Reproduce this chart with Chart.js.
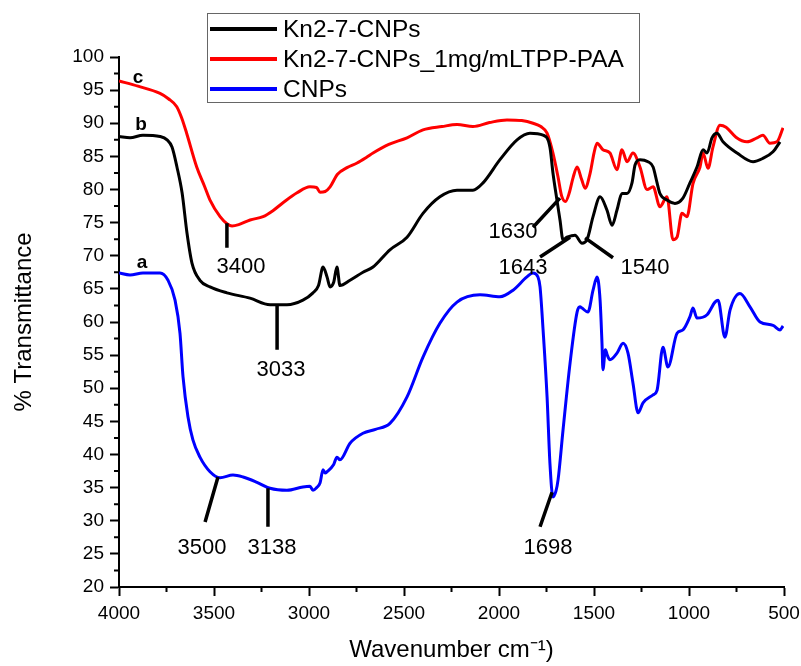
<!DOCTYPE html>
<html>
<head>
<meta charset="utf-8">
<script src="https://cdn.jsdelivr.net/npm/chart.js@4.4.1/dist/chart.umd.min.js"></script>
<style>
  html, body { margin: 0; padding: 0; background: #fff; }
  canvas { display: block; }
</style>
</head>
<body>
<canvas id="ftir" width="801" height="666"></canvas>
<script>
// FTIR spectra, % transmittance vs wavenumber
const seriesNames = ['Kn2-7-CNPs', 'Kn2-7-CNPs_1mg/mLTPP-PAA', 'CNPs'];

// b - Kn2-7-CNPs
const blackWn = [4000, 3942, 3874, 3784, 3747, 3721, 3695, 3668, 3642, 3616, 3574, 3521, 3432, 3311, 3205, 3116, 3032, 2979, 2950, 2926, 2905, 2889, 2870, 2853, 2837, 2784, 2716, 2663, 2574, 2484, 2400, 2311, 2221, 2137, 2084, 1995, 1905, 1837, 1768, 1732, 1716, 1695, 1679, 1663, 1642, 1620, 1600, 1563, 1537, 1505, 1468, 1432, 1405, 1379, 1353, 1326, 1300, 1284, 1258, 1216, 1189, 1168, 1153, 1116, 1074, 1032, 995, 958, 926, 905, 879, 853, 821, 747, 663, 611, 558, 521];
const blackT = [88.0, 87.8, 88.2, 88.0, 87.5, 86.4, 83.4, 79.5, 73.4, 68.9, 66.3, 65.3, 64.4, 63.6, 62.6, 62.6, 63.3, 64.4, 65.5, 68.3, 66.8, 65.3, 66.0, 68.3, 65.5, 66.3, 67.5, 68.3, 70.9, 72.8, 76.4, 78.9, 79.9, 79.9, 81.0, 84.5, 87.5, 88.5, 88.2, 86.4, 82.5, 78.4, 75.4, 72.4, 72.8, 73.0, 73.1, 71.9, 72.4, 75.9, 78.9, 76.9, 74.6, 76.9, 79.4, 79.4, 81.0, 83.7, 84.5, 84.2, 83.4, 81.0, 79.4, 78.4, 77.9, 78.7, 81.0, 83.4, 86.0, 85.5, 87.8, 88.5, 87.2, 85.5, 84.2, 84.7, 85.7, 87.2];

// c - Kn2-7-CNPs_1mg/mLTPP-PAA
const redWn = [4000, 3900, 3784, 3740, 3696, 3670, 3644, 3591, 3550, 3521, 3468, 3430, 3405, 3370, 3310, 3242, 3190, 3137, 3063, 2995, 2960, 2942, 2915, 2889, 2850, 2800, 2747, 2695, 2663, 2580, 2484, 2400, 2300, 2221, 2137, 2050, 1958, 1880, 1821, 1780, 1747, 1716, 1690, 1670, 1650, 1630, 1610, 1589, 1565, 1547, 1520, 1500, 1484, 1453, 1416, 1379, 1353, 1326, 1295, 1258, 1221, 1189, 1153, 1116, 1084, 1063, 1037, 1011, 979, 942, 926, 900, 874, 837, 805, 753, 695, 642, 611, 574, 537, 505];
const redT = [96.4, 95.6, 94.5, 93.7, 92.5, 90.8, 88.5, 83.4, 80.5, 78.4, 75.9, 74.8, 74.5, 74.7, 75.4, 75.9, 76.8, 78.0, 79.5, 80.4, 80.3, 79.6, 79.7, 80.4, 82.3, 83.3, 84.0, 84.9, 85.5, 86.8, 87.8, 89.0, 89.5, 89.8, 89.5, 90.1, 90.5, 90.4, 90.0, 89.5, 88.5, 85.5, 82.0, 79.0, 78.2, 79.5, 81.8, 83.4, 81.5, 80.2, 82.5, 85.5, 87.0, 86.0, 85.5, 83.0, 86.0, 84.2, 85.5, 83.4, 80.0, 80.4, 77.4, 78.9, 72.4, 72.8, 76.4, 75.9, 80.9, 83.4, 85.5, 83.2, 86.4, 89.7, 89.4, 87.9, 87.2, 87.8, 88.2, 87.0, 87.2, 89.3];

// a - CNPs
const blueWn = [4000, 3942, 3874, 3784, 3742, 3705, 3679, 3663, 3637, 3611, 3574, 3521, 3468, 3400, 3347, 3274, 3205, 3116, 3032, 2995, 2979, 2960, 2942, 2926, 2915, 2905, 2870, 2853, 2837, 2784, 2716, 2650, 2574, 2484, 2400, 2311, 2221, 2100, 1995, 1926, 1853, 1821, 1795, 1784, 1768, 1747, 1732, 1716, 1700, 1689, 1663, 1626, 1589, 1574, 1563, 1532, 1505, 1484, 1468, 1458, 1453, 1440, 1430, 1416, 1379, 1347, 1321, 1295, 1268, 1242, 1189, 1168, 1137, 1111, 1063, 1032, 995, 979, 958, 905, 863, 847, 811, 784, 732, 679, 626, 558, 521, 505];
const blueT = [67.4, 67.1, 67.4, 67.4, 66.3, 63.3, 58.3, 51.7, 45.7, 42.2, 39.6, 37.4, 36.5, 36.9, 36.6, 35.8, 34.9, 34.6, 35.1, 35.2, 34.6, 35.0, 35.7, 37.7, 37.2, 37.4, 38.5, 39.6, 39.2, 41.7, 43.2, 43.8, 44.7, 48.7, 54.7, 59.8, 63.0, 64.1, 63.8, 64.8, 66.8, 67.4, 66.8, 65.3, 58.8, 48.7, 38.7, 33.6, 34.5, 36.2, 43.7, 53.8, 61.5, 62.3, 62.1, 61.5, 64.8, 66.8, 63.3, 56.8, 52.8, 55.8, 55.0, 54.3, 55.3, 56.8, 55.3, 50.8, 46.3, 47.8, 49.0, 49.7, 56.2, 53.2, 58.3, 58.8, 60.8, 62.1, 60.6, 61.1, 63.0, 63.3, 57.7, 61.8, 64.3, 62.3, 60.0, 59.5, 58.8, 59.4];

// peak annotations in data units: label position and leader line
const peakNotes = [
  { text: '3400', x: 3358, y: 68.3, from: [3432, 74.9], to: [3432, 71.2] },
  { text: '3033', x: 3147, y: 52.8, from: [3168, 62.6], to: [3168, 55.8] },
  { text: '1630', x: 1926, y: 73.6, from: [1679, 78.7], to: [1821, 74.3] },
  { text: '1643', x: 1874, y: 68.2, from: [1626, 72.8], to: [1784, 69.8] },
  { text: '1540', x: 1232, y: 68.2, from: [1547, 72.7], to: [1400, 69.7] },
  { text: '3500', x: 3563, y: 25.9, from: [3479, 36.6], to: [3547, 29.8] },
  { text: '3138', x: 3195, y: 25.9, from: [3216, 34.9], to: [3216, 29.1] },
  { text: '1698', x: 1742, y: 25.9, from: [1721, 34.3], to: [1784, 29.1] }
];
const curveTags = [
  { text: 'c', x: 3900, y: 96.9 },
  { text: 'b', x: 3884, y: 89.7 },
  { text: 'a', x: 3879, y: 68.9 }
];

const FONT = "'Liberation Sans', Arial, sans-serif";

function pts(xs, ys) {
  return xs.map((x, i) => ({ x: x, y: ys[i] }));
}

const extras = {
  id: 'extras',
  afterDraw(chart) {
    const ctx = chart.ctx;
    const xs = chart.scales.x, ys = chart.scales.y;
    ctx.save();
    // minor ticks
    ctx.strokeStyle = '#000';
    ctx.lineWidth = 2;
    ctx.beginPath();
    for (let v = 22.5; v < 100; v += 5) {
      const py = ys.getPixelForValue(v);
      ctx.moveTo(xs.left - 5, py);
      ctx.lineTo(xs.left, py);
    }
    for (let v = 750; v < 4000; v += 500) {
      const px = xs.getPixelForValue(v);
      ctx.moveTo(px, ys.bottom);
      ctx.lineTo(px, ys.bottom + 5);
    }
    ctx.stroke();

    // leader lines
    ctx.lineWidth = 3.5;
    ctx.beginPath();
    peakNotes.forEach(n => {
      ctx.moveTo(xs.getPixelForValue(n.from[0]), ys.getPixelForValue(n.from[1]));
      ctx.lineTo(xs.getPixelForValue(n.to[0]), ys.getPixelForValue(n.to[1]));
    });
    ctx.stroke();

    ctx.fillStyle = '#000';
    ctx.textAlign = 'center';
    ctx.textBaseline = 'middle';
    ctx.font = '22px ' + FONT;
    peakNotes.forEach(n => {
      ctx.fillText(n.text, xs.getPixelForValue(n.x), ys.getPixelForValue(n.y));
    });
    ctx.font = 'bold 19px ' + FONT;
    curveTags.forEach(t => {
      ctx.fillText(t.text, xs.getPixelForValue(t.x), ys.getPixelForValue(t.y));
    });

    // legend box
    ctx.lineWidth = 1;
    ctx.strokeStyle = '#666';
    ctx.strokeRect(207.5, 13.5, 432, 89);
    ctx.textAlign = 'left';
    ctx.font = '24.5px ' + FONT;
    chart.data.datasets.forEach((ds, i) => {
      const y = 29 + i * 30;
      ctx.strokeStyle = ds.borderColor;
      ctx.lineWidth = 4;
      ctx.beginPath();
      ctx.moveTo(210, y);
      ctx.lineTo(277, y);
      ctx.stroke();
      ctx.fillStyle = '#000';
      ctx.fillText(ds.label, 283, y + 1);
    });
    ctx.restore();
  }
};

const axisCommon = {
  type: 'linear',
  grid: { drawOnChartArea: false, color: '#000', tickLength: 9, tickWidth: 2 },
  border: { color: '#000', width: 2 },
  ticks: { color: '#000', font: { family: FONT, size: 19 }, padding: 6, callback: v => String(v) }
};

new Chart(document.getElementById('ftir'), {
  type: 'line',
  data: {
    datasets: [
      { label: seriesNames[0], data: pts(blackWn, blackT), borderColor: '#000000' },
      { label: seriesNames[1], data: pts(redWn, redT), borderColor: '#ff0000' },
      { label: seriesNames[2], data: pts(blueWn, blueT), borderColor: '#0000ff' }
    ]
  },
  options: {
    responsive: false,
    animation: false,
    layout: { padding: { top: 57, right: 17, left: 0, bottom: 0 } },
    elements: {
      point: { radius: 0 },
      line: { borderWidth: 3, cubicInterpolationMode: 'monotone' }
    },
    plugins: { legend: { display: false }, tooltip: { enabled: false } },
    scales: {
      x: Object.assign({}, axisCommon, {
        reverse: true, min: 500, max: 4000,
        ticks: Object.assign({}, axisCommon.ticks, { stepSize: 500 }),
        title: { display: true, text: 'Wavenumber cm⁻¹)', color: '#000', font: { family: FONT, size: 24 }, padding: { top: 4, bottom: 1 } },
        afterFit(scale) { scale.height = 79; scale.paddingRight = 0; scale.paddingLeft = 0; }
      }),
      y: Object.assign({}, axisCommon, {
        min: 20, max: 100,
        ticks: Object.assign({}, axisCommon.ticks, { stepSize: 5 }),
        title: { display: true, text: '% Transmittance', color: '#000', font: { family: FONT, size: 24 }, padding: { top: 10, bottom: 0 } },
        afterFit(scale) { scale.width = 119; scale.paddingTop = 0; scale.paddingBottom = 0; }
      })
    }
  },
  plugins: [extras]
});
</script>
</body>
</html>
